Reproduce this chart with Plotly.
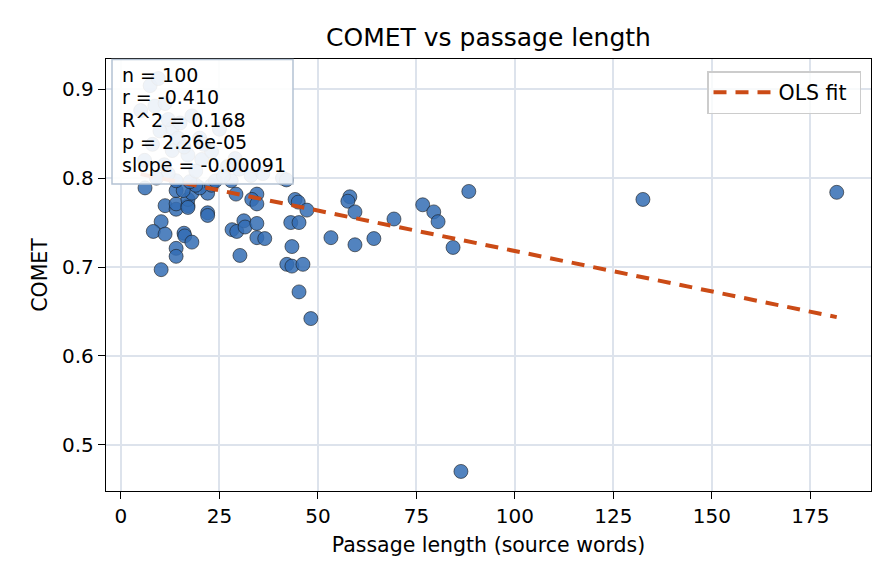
import plotly.graph_objects as go

# ---- data ----
passage_len = [
    6.1, 10.2, 8.2, 11.2, 10.2, 11.2, 14, 14, 14, 17, 17, 18, 16, 16.2, 18, 14, 14,
    22, 22, 22, 20, 19, 23, 29.2, 28.2, 29.4, 30.2, 31.2, 31.5, 34.5, 33.2, 34.5,
    34.5, 34.5, 36.5, 44.2, 45, 47.2, 43.1, 45.2, 43.4, 42.1, 43.4, 46.2, 45.2,
    48.2, 53.3, 58.1, 57.6, 59.4, 59.4, 64.2, 69.3, 76.6, 79.4, 80.5, 84.3, 88.3,
    86.3, 132.5, 181.7, 17, 15.8,
    # points mostly hidden behind the statistics box
    5.0, 7.4, 8.6, 11.2, 9.5, 13, 9.9, 14.5, 13, 17, 20.5, 23, 27, 28, 24, 17.5,
    14, 6, 8, 11, 15, 18, 20, 25, 30, 33, 36, 29, 41, 21, 12, 12, 26, 19, 9, 16, 42,
]
comet = [
    0.789, 0.751, 0.740, 0.737, 0.697, 0.769, 0.765, 0.771, 0.786, 0.769, 0.776,
    0.783, 0.738, 0.735, 0.728, 0.721, 0.712, 0.761, 0.758, 0.783, 0.789, 0.792,
    0.792, 0.782, 0.742, 0.740, 0.713, 0.752, 0.745, 0.782, 0.776, 0.771, 0.749,
    0.733, 0.732, 0.776, 0.773, 0.764, 0.750, 0.750, 0.723, 0.703, 0.701, 0.703,
    0.672, 0.642, 0.733, 0.779, 0.774, 0.762, 0.725, 0.732, 0.754, 0.770, 0.762,
    0.751, 0.722, 0.785, 0.470, 0.776, 0.784, 0.767, 0.786,
    0.876, 0.904, 0.881, 0.884, 0.912, 0.856, 0.853, 0.845, 0.831, 0.826, 0.821,
    0.830, 0.813, 0.797, 0.797, 0.796, 0.797, 0.820, 0.838, 0.815, 0.862, 0.870,
    0.845, 0.855, 0.810, 0.803, 0.805, 0.822, 0.800, 0.838, 0.866, 0.805, 0.802,
    0.808, 0.800, 0.835, 0.798,
]
fit_intercept = 0.809
fit_slope = -0.00091
stats_lines = ["n = 100", "r = -0.410", "R^2 = 0.168", "p = 2.26e-05", "slope = -0.00091"]
x_ticks = [0, 25, 50, 75, 100, 125, 150, 175]
y_ticks = [0.5, 0.6, 0.7, 0.8, 0.9]

FONT = "DejaVu Sans"

fit_x = [min(passage_len), max(passage_len)]
fit_y = [fit_intercept + fit_slope * v for v in fit_x]

fig = go.Figure()
fig.add_trace(go.Scatter(
    x=passage_len, y=comet, mode="markers", showlegend=False,
    marker=dict(size=14, color="rgba(52,109,180,0.85)",
                line=dict(width=0.6, color="#1a1a1a")),
))
fig.add_trace(go.Scatter(
    x=fit_x, y=fit_y, mode="lines", name="OLS fit",
    line=dict(color="#cb4b16", width=4, dash="13px,9px"),
))

# page offset (body margin) and target axes area in screenshot px
OFF = 8
W, H = 896, 584
L, R, T, B = 106, 871, 59, 491
aw, ah = R - L, B - T

def px_x(p):
    return (p - L) / aw

def px_y(p):
    return 1 - (p - T) / ah

fig.add_shape(type="rect", xref="paper", yref="paper",
              x0=px_x(112), x1=px_x(293), y0=px_y(184), y1=px_y(59.5),
              fillcolor="rgba(255,255,255,0.9)",
              line=dict(color="#b4c2d3", width=1.5), layer="above")
for i, t in enumerate(stats_lines):
    fig.add_annotation(text=t, xref="paper", yref="paper",
                       x=px_x(120), y=px_y(75 + i * 22.4),
                       xanchor="left", yanchor="middle", showarrow=False,
                       font=dict(family=FONT, size=19, color="black"))

axis_common = dict(
    showline=True, linecolor="black", linewidth=1.3, mirror=True,
    ticks="outside", ticklen=7, tickwidth=1.3, tickcolor="black",
    showgrid=True, gridcolor="#dde3ec", gridwidth=1.5, zeroline=False,
    tickfont=dict(family=FONT, size=20, color="black"),
)

ml, mt = L - OFF, T - OFF
fig.update_layout(
    width=W, height=H,
    margin=dict(l=ml, r=W - ml - aw, t=mt, b=H - mt - ah, autoexpand=False),
    plot_bgcolor="white", paper_bgcolor="white",
    title=dict(text="COMET vs passage length", x=((L + R) / 2 - OFF) / W, xanchor="center",
               y=1 - (37 - OFF) / H, yanchor="middle", xref="container", yref="container",
               font=dict(family=FONT, size=25, color="black")),
    xaxis=dict(range=[-3.8, 190.4], tickvals=x_ticks,
               title=dict(text="Passage length (source words)", standoff=10,
                          font=dict(family=FONT, size=20.5, color="black")),
               **axis_common),
    yaxis=dict(range=[0.448, 0.934], tickvals=y_ticks, tickformat=".1f",
               title=dict(text="COMET", standoff=8,
                          font=dict(family=FONT, size=20.5, color="black")),
               **axis_common),
    legend=dict(x=px_x(861), y=px_y(71), xanchor="right", yanchor="top",
                orientation="h", entrywidth=76, entrywidthmode="pixels",
                bgcolor="rgba(255,255,255,0.8)", bordercolor="#cccccc", borderwidth=1.5,
                itemwidth=60,
                font=dict(family=FONT, size=20.5, color="black")),
)

fig.write_html("out.html")
